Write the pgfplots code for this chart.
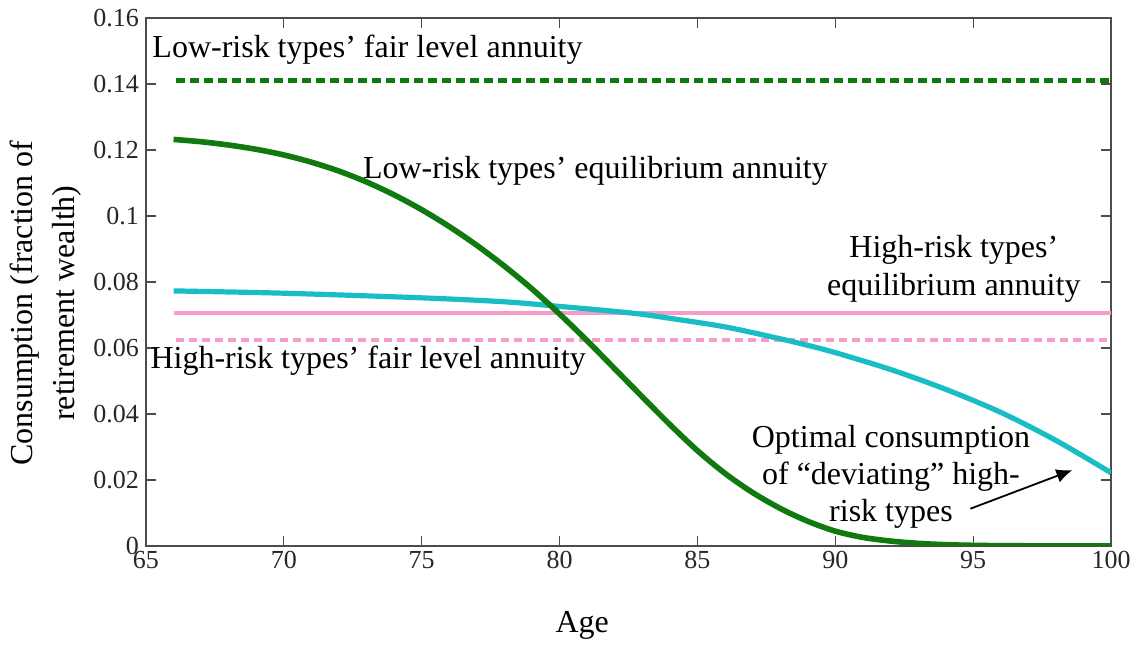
\documentclass[border=0pt]{standalone}
\usepackage{fontspec}
\setmainfont{Liberation Serif}
\usepackage{pgfplots}
\pgfplotsset{compat=1.18}
\usetikzlibrary{arrows.meta}
\definecolor{dgreen}{RGB}{16,122,16}
\definecolor{tealc}{RGB}{24,190,196}
\definecolor{pinkc}{RGB}{246,156,202}

\begin{document}
\begin{tikzpicture}
\begin{axis}[
  scale only axis, width=482.5bp, height=264bp,
  xmin=65, xmax=100, ymin=0, ymax=0.16,
  xtick={65,70,75,80,85,90,95,100},
  ytick={0,0.02,0.04,0.06,0.08,0.1,0.12,0.14,0.16},
  scaled y ticks=false,
  yticklabel style={/pgf/number format/fixed, /pgf/number format/precision=2},
  /pgf/number format/assume math mode=true,
  tick label style={font=\fontsize{13bp}{15bp}\selectfont, text=black!85},
  xticklabel style={yshift=1bp},
  tick align=inside, major tick length=5bp,
  axis line style={draw=black!70, line width=0.6bp},
  tick style={draw=black!70, line width=0.6bp},
  xlabel={Age},
  xlabel style={at={(axis description cs:0.452,0)}, anchor=base, yshift=-43.5bp, font=\fontsize{16bp}{19bp}\selectfont},
  ylabel={Consumption (fraction of\\retirement wealth)},
  ylabel style={at={(axis description cs:-0.104,0.46)}, anchor=center, align=center, font=\fontsize{16bp}{21bp}\selectfont},
]
% pink lines
\addplot[pinkc, line width=2bp] coordinates {(66,0.0706) (100,0.0706)};
\addplot[pinkc, line width=2bp, dash pattern=on 4bp off 2.5bp] coordinates {(66.1,0.0624) (100,0.0624)};
% green dashed
\addplot[dgreen, line width=2.5bp, dash pattern=on 4.5bp off 2.5bp] coordinates {(66.1,0.1412) (100,0.1412)};
% teal
\addplot[tealc, line width=2.6bp, smooth] coordinates {
(66,0.0773) (70,0.0766) (75,0.0752) (78,0.0740) (80,0.0726) (82,0.0711)
(83,0.0702) (84,0.0690) (86,0.0664) (88,0.0628) (89,0.0608) (90,0.0586)
(92,0.0535) (94,0.0475) (96,0.0405) (98,0.0320) (100,0.0222)};
% green solid
\addplot[dgreen, line width=2.8bp, smooth] coordinates {
(66,0.1232) (67,0.1225) (68,0.1215) (69,0.1202) (70,0.1185) (71,0.1163)
(72,0.1136) (73,0.1103) (74,0.1064) (75,0.1019) (76,0.0968) (77,0.0911)
(78,0.0848) (79,0.0779) (80,0.0703) (81,0.0622) (82,0.0537) (83,0.0452)
(84,0.0368) (85,0.0289) (86,0.0220) (87,0.0162) (88,0.0114) (89,0.0075)
(90,0.0045) (91,0.0026) (92,0.0015) (93,0.0008) (94,0.0004) (95,0.0002)
(96,0.0001) (98,0.00002) (100,0.0)};

\begin{scope}[every node/.style={font=\fontsize{16bp}{19bp}\selectfont, inner sep=0pt}]
\node[anchor=base west] at (axis cs:65.22,0.1479) {Low-risk types’ fair level annuity};
\node[anchor=base] at (axis cs:81.3,0.1115) {Low-risk types’ equilibrium annuity};
\node[anchor=base] at (axis cs:94.3,0.0873) {High-risk types’};
\node[anchor=base] at (axis cs:94.3,0.0759) {equilibrium annuity};
\node[anchor=base west] at (axis cs:65.15,0.0539) {High-risk types’ fair level annuity};
\node[anchor=base] at (axis cs:92.02,0.0297) {Optimal consumption};
\node[anchor=base] at (axis cs:92.02,0.0185) {of “deviating” high-};
\node[anchor=base] at (axis cs:92.02,0.0073) {risk types};
\end{scope}
\draw[black, line width=0.9bp, -{Latex[length=8bp,width=7bp]}] (axis cs:94.9,0.0113) -- (axis cs:98.6,0.0230);
\end{axis}
\path (-73bp,-48.5bp) rectangle (497.5bp,273bp);
\end{tikzpicture}
\end{document}
